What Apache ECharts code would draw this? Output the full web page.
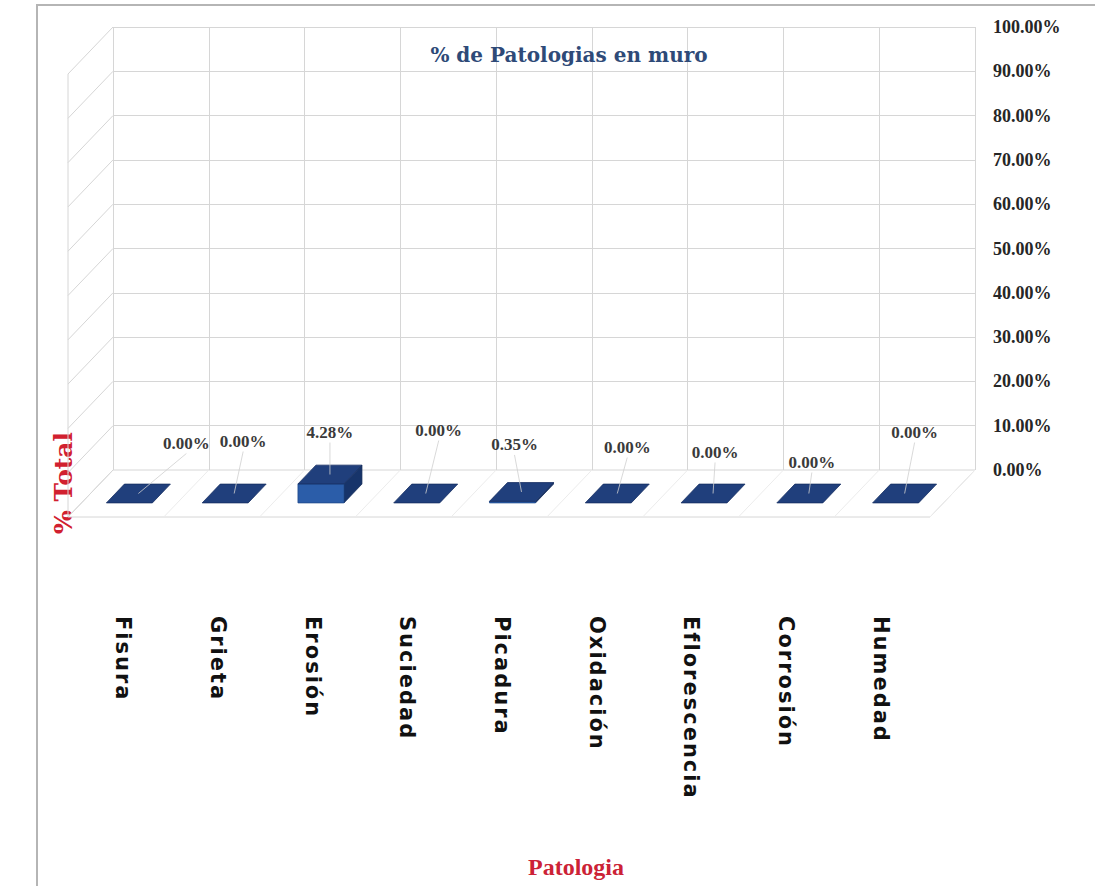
<!DOCTYPE html>
<html>
<head>
<meta charset="utf-8">
<title>% de Patologias en muro</title>
<script src="https://cdn.jsdelivr.net/npm/echarts@6/dist/echarts.min.js"></script>
<style>
  html, body { margin: 0; padding: 0; background: #ffffff; }
  #chart { width: 1095px; height: 886px; }
</style>
</head>
<body>
<div id="chart"></div>
<script>
// ---- data ----
const categories = ['Fisura', 'Grieta', 'Erosión', 'Suciedad', 'Picadura', 'Oxidación', 'Eflorescencia', 'Corrosión', 'Humedad'];
const percentTotal = [0, 0, 4.28, 0, 0.35, 0, 0, 0, 0];
const yTicks = [0, 10, 20, 30, 40, 50, 60, 70, 80, 90, 100];

// ---- pseudo-3D layout ----
const DEPTH_DX = -45;          // horizontal shift from back wall to front edge of the floor
const DEPTH_DY = 47;           // vertical shift from back wall to front edge of the floor
const BAR_BACK = 0.3;          // bar depth range, as a fraction of the floor depth
const BAR_FRONT = 0.7;
const BAR_WIDTH = 0.48;        // bar width as a fraction of the category band
const GRID_COLOR = '#d6d6d6';
const LABEL_SHIFT = [[48, -50], [9, -52], [0, -42], [13, -63], [-7, -47], [10, -46], [2, -41], [3, -31], [10, -61]];

function shift(x, y, d) {
  return [x + DEPTH_DX * d, y + DEPTH_DY * d];
}

// floor slab in front of the back wall
function renderFloor(params, api) {
  const cs = params.coordSys;
  const y0 = api.coord([0, 0])[1];
  const l = cs.x, r = cs.x + cs.width;
  return {
    type: 'polygon',
    shape: { points: [[l, y0], [r, y0], shift(r, y0, 1), shift(l, y0, 1)] },
    style: { fill: '#ffffff', stroke: GRID_COLOR, lineWidth: 1 }
  };
}

// category boundaries running across the floor
function renderFloorLines(params, api) {
  const cs = params.coordSys;
  const k = api.value(0);
  const x = cs.x + cs.width * k / categories.length;
  const y0 = api.coord([0, 0])[1];
  return {
    type: 'line',
    shape: { x1: x, y1: y0, x2: x + DEPTH_DX, y2: y0 + DEPTH_DY },
    style: { stroke: '#ececec', lineWidth: 1 }
  };
}

// left side wall: one slanted gridline per value tick, plus its front edge
function renderSideWall(params, api) {
  const cs = params.coordSys;
  const t = api.value(1);
  const y = api.coord([0, t])[1];
  const children = [{
    type: 'line',
    shape: { x1: cs.x, y1: y, x2: cs.x + DEPTH_DX, y2: y + DEPTH_DY },
    style: { stroke: GRID_COLOR, lineWidth: 1 }
  }];
  if (params.dataIndex === 0) {
    const yTop = cs.y;
    const yBot = cs.y + cs.height;
    children.push({
      type: 'line',
      shape: { x1: cs.x + DEPTH_DX, y1: yTop + DEPTH_DY, x2: cs.x + DEPTH_DX, y2: yBot + DEPTH_DY },
      style: { stroke: GRID_COLOR, lineWidth: 1 }
    });
  }
  return { type: 'group', children: children };
}

// boxes standing on the floor, with their value labels and leader lines
function renderBar(params, api) {
  const i = api.value(0);
  const v = api.value(1);
  const base = api.coord([i, 0]);
  const top = api.coord([i, v]);
  const half = api.size([1, 0])[0] * BAR_WIDTH / 2;
  const xl = base[0] - half, xr = base[0] + half;
  const y0 = base[1], yv = top[1];
  const children = [];

  if (y0 - yv > 0.8) {
    children.push({
      type: 'polygon',
      shape: { points: [shift(xr, y0, BAR_BACK), shift(xr, y0, BAR_FRONT), shift(xr, yv, BAR_FRONT), shift(xr, yv, BAR_BACK)] },
      style: { fill: '#17346a', stroke: '#132b58', lineWidth: 0.8 }
    });
    children.push({
      type: 'polygon',
      shape: { points: [shift(xl, y0, BAR_FRONT), shift(xr, y0, BAR_FRONT), shift(xr, yv, BAR_FRONT), shift(xl, yv, BAR_FRONT)] },
      style: { fill: '#2b5da9', stroke: '#1f4a8c', lineWidth: 0.8 }
    });
  }
  children.push({
    type: 'polygon',
    shape: { points: [shift(xl, yv, BAR_BACK), shift(xr, yv, BAR_BACK), shift(xr, yv, BAR_FRONT), shift(xl, yv, BAR_FRONT)] },
    style: { fill: '#203f7c', stroke: '#162f62', lineWidth: 0.8 }
  });

  const c = shift(base[0], yv, 0.5);
  const off = LABEL_SHIFT[i];
  const lx = c[0] + off[0], ly = c[1] + off[1];
  children.push({
    type: 'line',
    shape: { x1: lx, y1: ly + 10, x2: c[0], y2: c[1] },
    style: { stroke: '#cfcfcf', lineWidth: 0.8 }
  });
  children.push({
    type: 'text',
    x: lx, y: ly,
    style: {
      text: v.toFixed(2) + '%',
      fill: '#3a3a3a',
      font: 'bold 17px "Liberation Serif"',
      align: 'center',
      verticalAlign: 'middle'
    }
  });
  return { type: 'group', children: children };
}

const chart = echarts.init(document.getElementById('chart'), null, { renderer: 'svg' });

const option = {
  animation: false,
  backgroundColor: '#ffffff',
  title: {
    text: '% de Patologias en muro',
    left: 564, top: 40, textAlign: 'center',
    textStyle: { fontFamily: 'DejaVu Serif', fontWeight: 'bold', fontSize: 20, color: '#2e4a78' }
  },
  grid: [
    { left: 113, top: 27, width: 862, height: 443, outerBoundsMode: 'none' },
    { left: 76, top: 74, width: 852, height: 443, outerBoundsMode: 'none' }
  ],
  xAxis: [
    {
      gridIndex: 0, type: 'category', data: categories, boundaryGap: true,
      axisLine: { show: false }, axisTick: { show: false }, axisLabel: { show: false },
      splitLine: { show: true, lineStyle: { color: GRID_COLOR, width: 1 } }
    },
    {
      gridIndex: 1, type: 'category', data: categories, boundaryGap: true,
      axisLine: { show: false }, axisTick: { show: false }, splitLine: { show: false },
      axisLabel: {
        interval: 0, rotate: -90, margin: 99,
        fontFamily: 'DejaVu Sans', fontWeight: 'bold', fontSize: 21, color: '#111111'
      }
    }
  ],
  yAxis: [
    {
      gridIndex: 0, type: 'value', position: 'right', min: 0, max: 100, interval: 10,
      axisLine: { show: false }, axisTick: { show: false },
      splitLine: { show: true, lineStyle: { color: GRID_COLOR, width: 1 } },
      axisLabel: {
        margin: 18, formatter: function (v) { return v.toFixed(2) + '%'; },
        fontFamily: 'Liberation Serif', fontWeight: 'bold', fontSize: 18, color: '#262626'
      }
    },
    { gridIndex: 1, type: 'value', min: 0, max: 100, show: false }
  ],
  graphic: [
    {
      type: 'polyline', silent: true, z: 100,
      shape: { points: [[37, 890], [37, 5], [1100, 5]] },
      style: { stroke: '#b5b5b5', lineWidth: 2, fill: null }
    },
    {
      type: 'text', x: 63, y: 483, rotation: Math.PI / 2,
      style: { text: '% Total', fill: '#d1202f', font: 'bold 25px "DejaVu Serif"', align: 'center', verticalAlign: 'middle' }
    },
    {
      type: 'text', x: 576, y: 867,
      style: { text: 'Patologia', fill: '#cc2236', font: 'bold 24px "Liberation Serif"', align: 'center', verticalAlign: 'middle' }
    }
  ],
  series: [
    {
      type: 'custom', xAxisIndex: 0, yAxisIndex: 0, clip: false, silent: true, z: 1,
      renderItem: renderFloor, data: [[0, 0]]
    },
    {
      type: 'custom', xAxisIndex: 0, yAxisIndex: 0, clip: false, silent: true, z: 2,
      renderItem: renderFloorLines,
      data: categories.map(function (_, k) { return [k]; }).concat([[categories.length]])
    },
    {
      type: 'custom', xAxisIndex: 0, yAxisIndex: 0, clip: false, silent: true, z: 2,
      renderItem: renderSideWall,
      data: yTicks.map(function (t) { return [0, t]; })
    },
    {
      type: 'custom', name: '% Total', xAxisIndex: 0, yAxisIndex: 0, clip: false, z: 5,
      renderItem: renderBar,
      data: percentTotal.map(function (v, i) { return [i, v]; })
    }
  ]
};

chart.setOption(option);

// widen the tracking of the vertical category names
function spaceCategoryLabels() {
  const names = new Set(categories);
  document.querySelectorAll('#chart svg text').forEach(function (t) {
    if (names.has(t.textContent)) t.setAttribute('letter-spacing', '2');
  });
}
chart.on('finished', spaceCategoryLabels);
spaceCategoryLabels();
setTimeout(spaceCategoryLabels, 50);
</script>
</body>
</html>
